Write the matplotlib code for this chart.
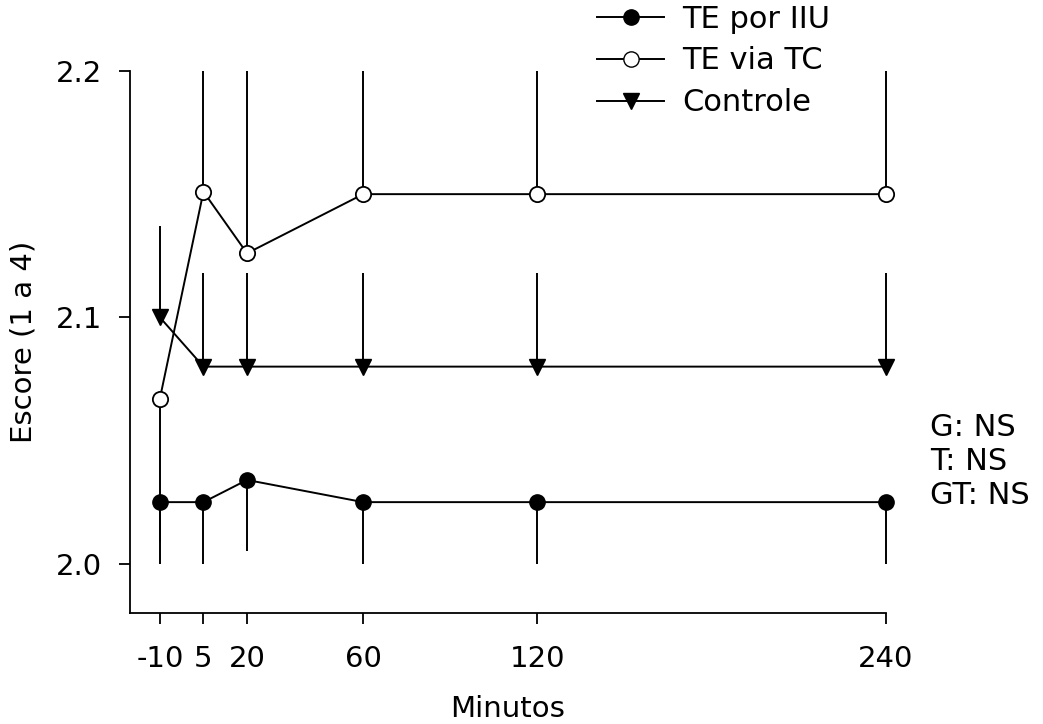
import matplotlib
matplotlib.use("Agg")
import matplotlib.pyplot as plt
from matplotlib.lines import Line2D

# Dados
minutos = [-10, 5, 20, 60, 120, 240]

iiu = [2.025, 2.025, 2.034, 2.025, 2.025, 2.025]
iiu_inf = [0.025, 0.025, 0.029, 0.025, 0.025, 0.025]

tc = [2.067, 2.151, 2.126, 2.150, 2.150, 2.150]
tc_inf = [0.058, 0, 0, 0, 0, 0]
tc_sup = [0, 0.049, 0.074, 0.050, 0.050, 0.050]  # barras vão até o topo do eixo

controle = [2.100, 2.080, 2.080, 2.080, 2.080, 2.080]
controle_sup = [0.037, 0.038, 0.038, 0.038, 0.038, 0.038]

zeros = [0] * len(minutos)

plt.rcParams["font.family"] = "DejaVu Sans"
fig = plt.figure(figsize=(10.43, 7.24), dpi=100)
ax = fig.add_axes([0.1246, 0.1533, 0.7249, 0.7487])

# Barras de erro (sem caps)
for y, err in [(iiu, [iiu_inf, zeros]), (tc, [tc_inf, tc_sup]), (controle, [zeros, controle_sup])]:
    eb = ax.errorbar(minutos, y, yerr=err, fmt="none", ecolor="black", elinewidth=1.4, capsize=0)
    for c in eb.lines[2]:
        c.set_clip_on(False)

# Linhas e marcadores
ax.plot(minutos, iiu, color="black", lw=1.4, marker="o", ms=11, mfc="black", mec="black",
        zorder=3, clip_on=False)
ax.plot(minutos, tc, color="black", lw=1.4, marker="o", ms=11, mfc="white", mec="black", mew=1.3,
        zorder=3, clip_on=False)
ax.plot(minutos, controle, color="black", lw=1.4, marker="v", ms=12, mfc="black", mec="black",
        zorder=3, clip_on=False)

ax.set_xlim(-20.3, 240)
ax.set_ylim(1.98, 2.2)
ax.set_xticks(minutos)
ax.set_xticklabels([str(m) for m in minutos])
ax.set_yticks([2.0, 2.1, 2.2])
ax.set_yticklabels(["2.0", "2.1", "2.2"])

for s in ["top", "right"]:
    ax.spines[s].set_visible(False)
ax.spines["left"].set_linewidth(1.3)
ax.spines["bottom"].set_linewidth(1.3)

ax.tick_params(axis="both", direction="out", length=8, width=1.3, labelsize=21)
ax.tick_params(axis="x", pad=15)
ax.tick_params(axis="y", pad=12)

ax.set_xlabel("Minutos", fontsize=21, labelpad=16)
ax.set_ylabel("Escore (1 a 4)", fontsize=21, labelpad=13)

# Legenda
handles = [
    Line2D([], [], color="black", lw=1.4, marker="o", ms=11, mfc="black", mec="black"),
    Line2D([], [], color="black", lw=1.4, marker="o", ms=11, mfc="white", mec="black"),
    Line2D([], [], color="black", lw=1.4, marker="v", ms=12, mfc="black", mec="black"),
]
labels = ["TE por IIU", "TE via TC", "Controle"]
fig.legend(handles, labels, loc="upper left", bbox_to_anchor=(0.568, 1.0),
           frameon=False, fontsize=22, handlelength=2.2, handletextpad=0.6,
           labelspacing=0.42, borderpad=0.15, borderaxespad=0)

fig.text(0.892, 0.362, "G: NS\nT: NS\nGT: NS", fontsize=22, va="center", ha="left", linespacing=1.22)

fig.savefig("out.png", dpi=100)
